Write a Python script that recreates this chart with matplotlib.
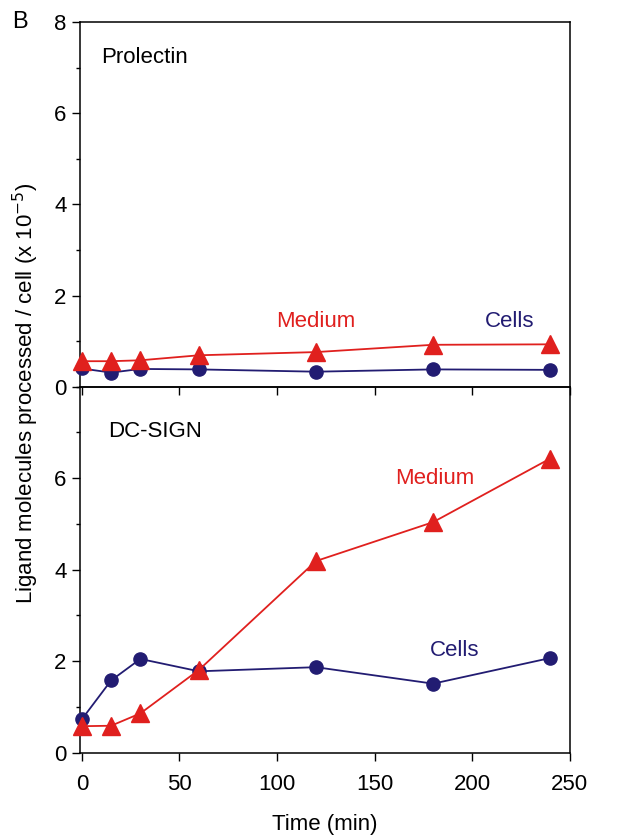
import numpy as np
import matplotlib
matplotlib.use("Agg")
import matplotlib.pyplot as plt
from matplotlib.ticker import MultipleLocator

# time points (min)
time = [0, 15, 30, 60, 120, 180, 240]
# Prolectin panel
prol_medium = [0.56, 0.56, 0.58, 0.69, 0.76, 0.92, 0.93]
prol_cells = [0.40, 0.31, 0.39, 0.38, 0.33, 0.38, 0.37]
# DC-SIGN panel
dcs_medium = [0.58, 0.59, 0.86, 1.81, 4.19, 5.04, 6.43]
dcs_cells = [0.73, 1.58, 2.05, 1.78, 1.87, 1.51, 2.07]

RED = "#e0201e"
NAVY = "#221c72"

plt.rcParams.update({"font.family": ["Liberation Sans", "DejaVu Sans"],
                     "font.size": 16, "axes.linewidth": 1.1})

fig = plt.figure(figsize=(6.24, 8.36), dpi=100)
L, R = 0.128, 0.913
axT = fig.add_axes([L, 0.5374, R - L, 0.9737 - 0.5374])
axB = fig.add_axes([L, 0.0996, R - L, 0.5374 - 0.0996])
axB.patch.set_visible(False)

for ax, med, cel in ((axT, prol_medium, prol_cells), (axB, dcs_medium, dcs_cells)):
    ax.plot(time, cel, "o-", color=NAVY, lw=1.3, ms=9.5, zorder=3, clip_on=False)
    ax.plot(time, med, "^-", color=RED, lw=1.3, ms=13, zorder=4, clip_on=False)
    ax.set_xlim(-1, 250)
    ax.set_ylim(0, 8)
    ax.yaxis.set_major_locator(MultipleLocator(2))
    ax.yaxis.set_minor_locator(MultipleLocator(1))
    ax.xaxis.set_major_locator(MultipleLocator(50))
    ax.tick_params(which="both", direction="out", labelsize=16, width=1.0)
    ax.tick_params(which="major", length=6)
    ax.tick_params(which="minor", length=3)

axT.tick_params(axis="x", labelbottom=False)
axB.tick_params(axis="x", pad=9)
axB.set_yticks([0, 2, 4, 6])
axB.set_xlabel("Time (min)", fontsize=16, labelpad=14)

axT.text(10, 7.1, "Prolectin", fontsize=16, va="baseline")
axT.text(120, 1.42, "Medium", color=RED, fontsize=16, ha="center", va="center")
axT.text(219, 1.42, "Cells", color=NAVY, fontsize=16, ha="center", va="center")
axB.text(13.5, 6.9, "DC-SIGN", fontsize=16, va="baseline")
axB.text(181, 6.0, "Medium", color=RED, fontsize=16, ha="center", va="center")
axB.text(191, 2.23, "Cells", color=NAVY, fontsize=16, ha="center", va="center")

fig.text(0.032, 0.974, "B", fontsize=17, ha="center", va="center")
fig.text(0.042, 0.530, "Ligand molecules processed / cell (x 10$^{-5}$)",
         rotation=90, fontsize=16, ha="center", va="center")

fig.savefig("out.png", dpi=100)
